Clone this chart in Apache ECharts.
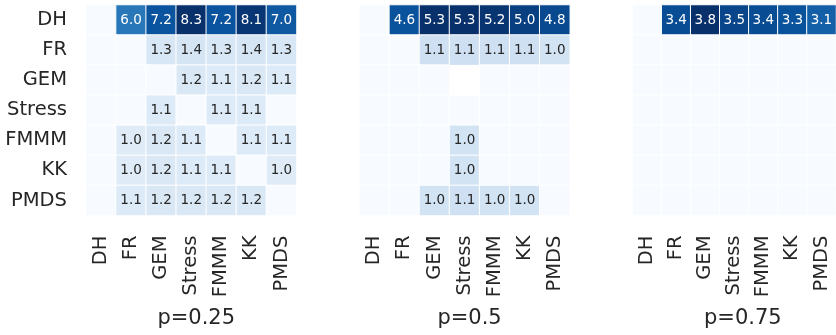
<!DOCTYPE html>
<html>
<head>
<meta charset="utf-8">
<script src="https://cdn.jsdelivr.net/npm/echarts@6/dist/echarts.min.js"></script>
<style>
  html, body { margin: 0; padding: 0; background: #fff; }
  #chart { width: 836px; height: 335px; }
</style>
</head>
<body>
<div id="chart"></div>
<script>
// Layout algorithms compared pairwise (rows vs columns)
const methods = ['DH', 'FR', 'GEM', 'Stress', 'FMMM', 'KK', 'PMDS'];
const panelTitles = ['p=0.25', 'p=0.5', 'p=0.75'];

// Ratio matrices, one per p; 0 = no annotated value, null = missing cell
const ratiosP025 = [
  [0, 6.0, 7.2, 8.3, 7.2, 8.1, 7.0],
  [0, 0, 1.3, 1.4, 1.3, 1.4, 1.3],
  [0, 0, 0, 1.2, 1.1, 1.2, 1.1],
  [0, 0, 1.1, 0, 1.1, 1.1, 0],
  [0, 1.0, 1.2, 1.1, 0, 1.1, 1.1],
  [0, 1.0, 1.2, 1.1, 1.1, 0, 1.0],
  [0, 1.1, 1.2, 1.2, 1.2, 1.2, 0]
];
const ratiosP05 = [
  [0, 4.6, 5.3, 5.3, 5.2, 5.0, 4.8],
  [0, 0, 1.1, 1.1, 1.1, 1.1, 1.0],
  [0, 0, 0, null, 0, 0, 0],
  [0, 0, 0, 0, 0, 0, 0],
  [0, 0, 0, 1.0, 0, 0, 0],
  [0, 0, 0, 1.0, 0, 0, 0],
  [0, 0, 1.0, 1.1, 1.0, 1.0, 0]
];
const ratiosP075 = [
  [0, 3.4, 3.8, 3.5, 3.4, 3.3, 3.1],
  [0, 0, 0, 0, 0, 0, 0],
  [0, 0, 0, 0, 0, 0, 0],
  [0, 0, 0, 0, 0, 0, 0],
  [0, 0, 0, 0, 0, 0, 0],
  [0, 0, 0, 0, 0, 0, 0],
  [0, 0, 0, 0, 0, 0, 0]
];
const panels = [ratiosP025, ratiosP05, ratiosP075];

// Matplotlib "Blues" colour ramp
const blues = ['#f7fbff', '#deebf7', '#c6dbef', '#9ecae1', '#6baed6',
               '#4292c6', '#2171b5', '#08519c', '#08306b'];

const FONT = 'DejaVu Sans';
const TEXT = '#262626';
const gridLeft = [86, 359.3, 632.6];
const gridTop = 5;
const gridSize = 210.5;

const grids = [], xAxes = [], yAxes = [], series = [], visualMaps = [], titles = [];

panels.forEach((m, p) => {
  const vmax = Math.max(...m.flat().filter(v => v !== null));
  const data = [];
  m.forEach((row, r) => row.forEach((v, c) => {
    if (v === null) return;
    data.push({
      value: [c, r, v],
      label: { color: v / vmax > 0.5 ? '#ffffff' : TEXT }
    });
  }));

  grids.push({ left: gridLeft[p], top: gridTop, width: gridSize, height: gridSize });
  xAxes.push({
    type: 'category', data: methods, gridIndex: p,
    axisLine: { show: false }, axisTick: { show: false },
    axisLabel: { rotate: 90, margin: 20, fontFamily: FONT, fontSize: 19.5, color: TEXT, interval: 0 },
    splitLine: { show: false }
  });
  yAxes.push({
    type: 'category', data: methods, gridIndex: p, inverse: true,
    axisLine: { show: false }, axisTick: { show: false },
    axisLabel: { show: p === 0, margin: 19, fontFamily: FONT, fontSize: 19.5, color: TEXT, interval: 0 },
    splitLine: { show: false }
  });
  visualMaps.push({
    show: false, seriesIndex: p, dimension: 2,
    min: 0, max: vmax, inRange: { color: blues }
  });
  series.push({
    type: 'heatmap', xAxisIndex: p, yAxisIndex: p, data: data,
    itemStyle: { borderColor: '#ffffff', borderWidth: 1 },
    label: {
      show: true, fontFamily: FONT, fontSize: 13.5,
      formatter: (prm) => prm.value[2] > 0 ? prm.value[2].toFixed(1) : ''
    },
    emphasis: { disabled: true }
  });
  titles.push({
    text: panelTitles[p],
    left: gridLeft[p] + gridSize / 2, top: 303, textAlign: 'center',
    textStyle: { fontFamily: FONT, fontSize: 21, fontWeight: 'normal', color: TEXT }
  });
});

const chart = echarts.init(document.getElementById('chart'), null, { renderer: 'canvas' });
chart.setOption({
  animation: false,
  backgroundColor: '#ffffff',
  title: titles,
  grid: grids,
  xAxis: xAxes,
  yAxis: yAxes,
  visualMap: visualMaps,
  series: series
});
</script>
</body>
</html>
